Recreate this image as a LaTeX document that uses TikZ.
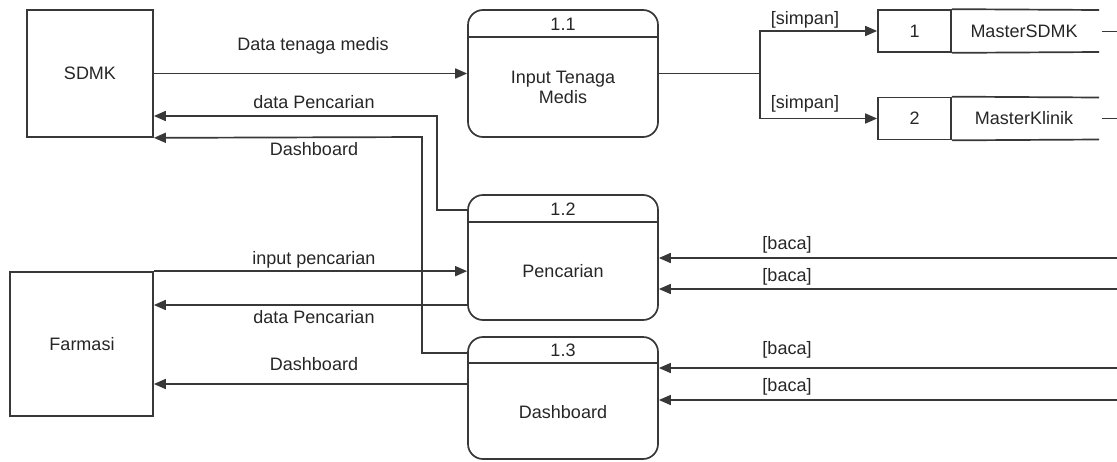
\documentclass[tikz,border=0pt]{standalone}
\usepackage{fontspec}
\setmainfont{Liberation Sans}
\usetikzlibrary{arrows.meta}
\begin{document}
\begin{tikzpicture}[x=1pt,y=-1pt,color=black!78,line width=1.7pt,
  every node/.style={font=\fontsize{18}{20}\selectfont,inner sep=0pt,text=black!85},
  proc/.style={draw,rounded corners=15pt,minimum width=190pt,inner sep=0pt},
  ent/.style={draw,inner sep=0pt},
  sid/.style={draw,minimum width=73pt,minimum height=42pt,inner sep=0pt},
  arr/.style={-{Triangle[length=12pt,width=10pt]}}]
\useasboundingbox (0,0) rectangle (1117,461);

% external entities
\node[ent,minimum width=126pt,minimum height=127pt] (sdmk) at (90,73.5) {};
\node (sdmkt) at (90,73) {SDMK};
\node[ent,minimum width=143pt,minimum height=144pt] (farm) at (81.5,344) {};
\node (farmt) at (82,344) {Farmasi};

% processes
\node[proc,minimum height=127pt] (p11) at (563,73.5) {};
\draw (p11.west |- 0,37) -- (p11.east |- 0,37);
\node (n11) at (563,24) {1.1};
\node[align=center] (t11) at (563,87) {Input Tenaga\\Medis};

\node[proc,minimum height=125pt] (p12) at (563,257.5) {};
\draw (p12.west |- 0,222) -- (p12.east |- 0,222);
\node (n12) at (563,209) {1.2};
\node (t12) at (563,271) {Pencarian};

\node[proc,minimum height=122pt] (p13) at (563,398) {};
\draw (p13.west |- 0,363) -- (p13.east |- 0,363);
\node (n13) at (563,350) {1.3};
\node (t13) at (563,412) {Dashboard};

% data stores
\node[sid] (s1) at (914.5,31) {1};
\node (s1t) at (1024,31) {MasterSDMK};
\coordinate (s1a) at (1099,10);
\coordinate (s1b) at (1099,52);
\draw (s1.north east) -- (s1a);
\draw (s1.south east) -- (s1b);
\node[sid] (s2) at (914.5,118.5) {2};
\node (s2t) at (1024,118) {MasterKlinik};
\coordinate (s2a) at (1099,97.5);
\coordinate (s2b) at (1099,139.5);
\draw (s2.north east) -- (s2a);
\draw (s2.south east) -- (s2b);

% stubs leaving to the right
\coordinate (o1a) at (1102,31.5);
\coordinate (o1b) at (1117,31.5);
\coordinate (o2a) at (1102,118.5);
\coordinate (o2b) at (1117,118.5);
\draw (o1a) -- (o1b);
\draw (o2a) -- (o2b);

% SDMK -> 1.1
\draw[arr] (sdmk.east |- p11.west) -- (p11.west);
\node (l1) at (313,46) {Data tenaga medis};

% 1.1 -> stores
\coordinate (j) at (760,73.5);
\draw (p11.east) -- (j);
\draw[arr] (j) |- (s1.west);
\draw[arr] (j) |- (s2.west);
\node (ls1) at (805,20) {[simpan]};
\node (ls2) at (805,104) {[simpan]};

% 1.2 -> SDMK
\coordinate (k1) at (437,210);
\coordinate (k2) at (437,116);
\draw[arr] (p12.west |- k1) -- (k1) -- (k2) -- (sdmk.east |- k2);
\node (l2) at (314,102) {data Pencarian};

% 1.3 -> SDMK
\coordinate (m1) at (422,353);
\coordinate (m2) at (422,137);
\draw[arr] (p13.west |- m1) -- (m1) -- (m2) -- (sdmk.south east);
\node (l3) at (314,149) {Dashboard};

% Farmasi <-> processes
\draw[arr] (farm.north east) -- (p12.west |- farm.north east);
\node (l4) at (314,260) {input pencarian};
\coordinate (f1) at (0,305);
\draw[arr] (p12.west |- f1) -- (farm.east |- f1);
\node (l5) at (314,317) {data Pencarian};
\coordinate (f2) at (0,384);
\draw[arr] (p13.west |- f2) -- (farm.east |- f2);
\node (l6) at (314,364) {Dashboard};

% [baca] flows
\coordinate (b1) at (1117,258);
\coordinate (b2) at (1117,289);
\coordinate (b3) at (1117,368);
\coordinate (b4) at (1117,400);
\draw[arr] (b1) -- (p12.east |- b1);
\draw[arr] (b2) -- (p12.east |- b2);
\draw[arr] (b3) -- (p13.east |- b3);
\draw[arr] (b4) -- (p13.east |- b4);
\node (lb1) at (787,245) {[baca]};
\node (lb2) at (787,277) {[baca]};
\node (lb3) at (787,350) {[baca]};
\node (lb4) at (787,387) {[baca]};
\end{tikzpicture}
\end{document}
